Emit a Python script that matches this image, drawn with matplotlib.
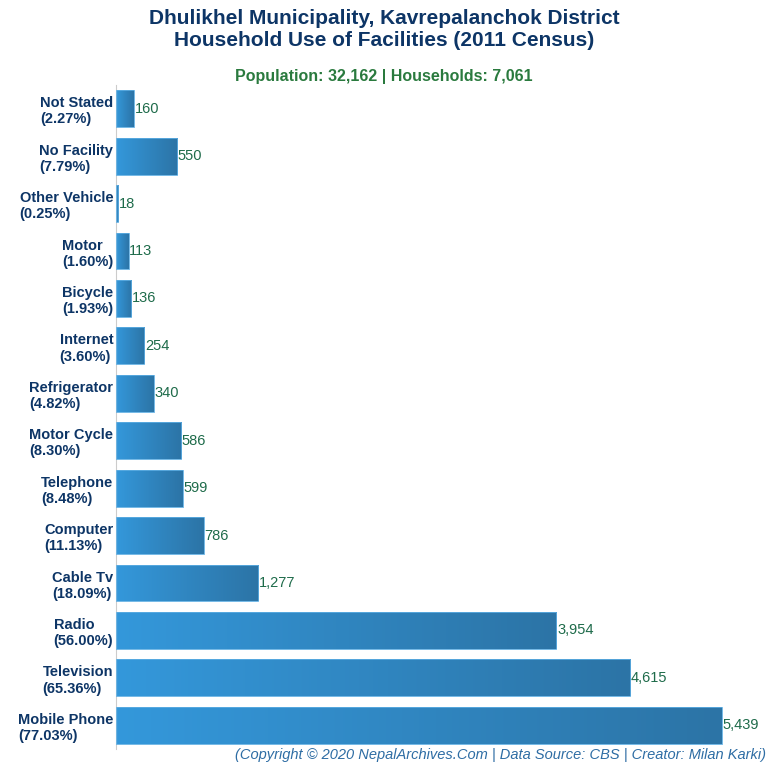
import matplotlib
matplotlib.use("Agg")
import matplotlib.pyplot as plt
import numpy as np
from matplotlib.patches import Rectangle
from matplotlib.colors import LinearSegmentedColormap

categories = ["Not Stated", "No Facility", "Other Vehicle", "Motor", "Bicycle", "Internet",
              "Refrigerator", "Motor Cycle", "Telephone", "Computer", "Cable Tv", "Radio",
              "Television", "Mobile Phone"]
values = [160, 550, 18, 113, 136, 254, 340, 586, 599, 786, 1277, 3954, 4615, 5439]
percents = ["2.27%", "7.79%", "0.25%", "1.60%", "1.93%", "3.60%", "4.82%", "8.30%", "8.48%",
            "11.13%", "18.09%", "56.00%", "65.36%", "77.03%"]

FONT = ['Liberation Sans Narrow', 'Liberation Sans', 'DejaVu Sans']
plt.rcParams['font.family'] = FONT

fig = plt.figure(figsize=(7.68, 7.68), dpi=100)
ax = fig.add_axes([116/768, 1 - 749/768, (768-116)/768, (749-85)/768])

n = len(categories)
ys = np.arange(n)
cmap = LinearSegmentedColormap.from_list("g", ["#3498db", "#2c74a6"])
grad = np.linspace(0, 1, 256).reshape(1, -1)
h = 0.78
for y, v in zip(ys, values):
    rect = Rectangle((0, y - h/2), v, h, facecolor="none", edgecolor="#5dade2", lw=0.6, zorder=3)
    ax.add_patch(rect)
    im = ax.imshow(grad, cmap=cmap, aspect="auto", extent=(0, v, y + h/2, y - h/2), zorder=2)
    im.set_clip_path(rect)
    ax.text(v + 5, y, f"{v:,}", va="center", ha="left", fontsize=10.5, color="#1e6b4a")

ax.set_ylim(n - 0.5, -0.5)
ax.set_xlim(0, 5853)
ax.set_yticks(ys)
ax.set_yticklabels([f"{c}\n({p})" for c, p in zip(categories, percents)],
                   fontsize=10.5, fontweight="bold", color="#0d3566", ha="right", multialignment="left")
ax.tick_params(axis="y", length=0, pad=2)
ax.set_xticks([])
for s in ["top", "right", "bottom"]:
    ax.spines[s].set_visible(False)
ax.spines["left"].set_color("#cccccc")
ax.spines["left"].set_linewidth(0.8)

fig.text(0.5, 1 - 18/768, "Dhulikhel Municipality, Kavrepalanchok District",
         ha="center", va="center", fontsize=15, fontweight="bold", color="#0d3566")
fig.text(0.5, 1 - 40/768, "Household Use of Facilities (2011 Census)",
         ha="center", va="center", fontsize=15, fontweight="bold", color="#0d3566")
fig.text(0.5, 1 - 76/768, "Population: 32,162 | Households: 7,061", ha="center", va="center",
         fontsize=11.5, fontweight="bold", color="#2a7a3e")
fig.text(766/768, 1 - 755/768, "(Copyright © 2020 NepalArchives.Com | Data Source: CBS | Creator: Milan Karki)",
         ha="right", va="center", fontsize=10.5, style="italic", color="#2e6da4")

fig.savefig("out.png", dpi=100)
